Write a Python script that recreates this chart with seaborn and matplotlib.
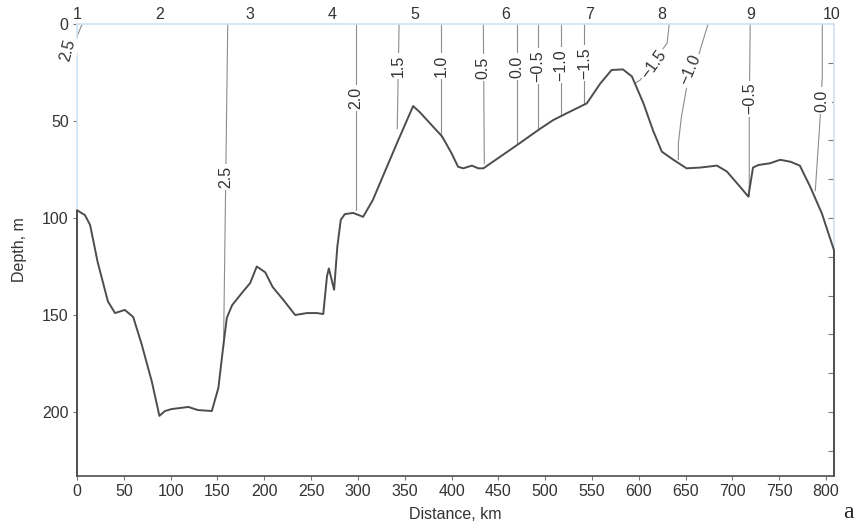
#!/usr/bin/env python3
"""Depth section along the transect: bottom profile plus temperature isolines."""

import matplotlib
matplotlib.use("Agg")
import matplotlib.pyplot as plt
import seaborn as sns
import pandas as pd
import numpy as np

# Bottom profile (distance along the section, depth)
dist_km = [0, 8.5, 14, 22, 33, 40.6, 51, 60, 69, 80, 88, 94, 101, 119, 129, 144,
           151, 156, 160, 165.6, 176, 185, 192, 201, 209, 220, 233, 245.7, 256,
           263, 267, 269, 274.6, 278, 281.7, 286, 295, 305.6, 316, 331, 343, 359,
           366, 390, 400, 407, 412.6, 421.7, 428.6, 434, 470, 494.6, 508.7, 523,
           544.5, 559, 571, 583, 592.6, 605, 615, 624.6, 637, 651, 665.6, 683.4,
           694, 708, 717, 722, 727.6, 740, 751, 762, 772, 783, 795.5, 808.5]
depth_m = [96, 98.5, 103.6, 122.6, 143, 149, 147.4, 151, 165, 184.5, 202, 199.5,
           198.5, 197.4, 199, 199.5, 187.6, 167, 151.5, 145, 138.7, 133.5, 125,
           128, 135.6, 142, 150, 149, 149, 149.5, 130, 126, 137, 115, 101, 98,
           97.4, 99.4, 90.7, 73.6, 60, 42.3, 45.4, 58, 66.6, 73.6, 74.4, 73, 74.4,
           74.4, 62.4, 54, 49.5, 46, 40.9, 30.6, 23.7, 23.4, 27, 40.9, 54.6, 65.8,
           70, 74.4, 74, 73, 76, 83.8, 89, 74, 72.7, 71.8, 70, 71, 73, 83.8, 97.6,
           116.6]

# Stations along the top
stations = ["1", "2", "3", "4", "5", "6", "7", "8", "9", "10"]
station_km = [0, 88, 185, 273, 361, 458, 547, 625, 720, 805.5]

# Temperature isolines, °C
iso_labels = ["2.5", "2.5", "2.0", "1.5", "1.0", "0.5", "0.0", "\u22120.5",
              "\u22121.0", "\u22121.5", "\u22121.5", "\u22121.0", "\u22120.5", "0.0"]
iso_x = [[5.5, 0], [161, 156.5], [298, 298], [344, 342], [389, 389],
         [434, 435], [470, 470], [492.5, 492.5], [517, 517], [542, 542],
         [632.5, 630.3, 601.5, 596],
         [674, 668.8, 662.4, 651, 645.5, 642.3, 642.3],
         [719, 718, 718], [796, 796, 793.5, 788.5]]
iso_depth = [[0, 6.5], [0, 167], [0, 96], [0, 54], [0, 58], [0, 72], [0, 62],
             [0, 54], [0, 47], [0, 41], [0, 9.8, 28.9, 30.5],
             [0, 8.2, 18.6, 33, 48, 61.3, 70], [0, 45, 89], [0, 27, 50, 86]]

# where each label sits on its line (x, depth, rotation)
label_place = [(-9.5, 13.5, 75), (159, 79, 90), (298, 38, 90), (343.5, 21.5, 90),
               (389, 21.5, 90), (434, 22.5, 90), (470, 22, 90), (492.5, 21.5, 90),
               (517, 21, 90), (542, 20, 90), (616, 21, 54), (655, 23.7, 67),
               (718.5, 38.5, 90), (796, 39.5, 90)]

sns.set_style("ticks")
plt.rcParams["font.family"] = ["Liberation Sans", "DejaVu Sans"]

LIGHT = "#cfe2f2"
DARK = "#4d4d4d"
ISO = "#8c8c8c"
TXT = "#333333"
FS = 11.5

fig = plt.figure(figsize=(8.59, 5.29), dpi=100)
ax = fig.add_axes([77 / 859, 1 - 476 / 529, 757 / 859, 452 / 529])

XMAX, YMAX = 808.5, 233

# bottom profile, closed down to the frame
prof = pd.DataFrame({"x": [0] + dist_km + [XMAX], "y": [YMAX] + depth_m + [YMAX]})
sns.lineplot(data=prof, x="x", y="y", sort=False, estimator=None, color=DARK,
             linewidth=1.4, ax=ax, clip_on=False, zorder=4)

for lab, xs, ys, (lx, ly, rot) in zip(iso_labels, iso_x, iso_depth, label_place):
    d = pd.DataFrame({"x": xs, "y": ys})
    sns.lineplot(data=d, x="x", y="y", sort=False, estimator=None, color=ISO,
                 linewidth=0.8, ax=ax, zorder=2)
    ax.text(lx, ly, lab, rotation=rot, ha="center", va="center", fontsize=FS,
            color=TXT, clip_on=False, zorder=3, rotation_mode="anchor",
            bbox=dict(fc="white", ec="none", pad=1.5))

for s, xk in zip(stations, station_km):
    ax.text(xk, -1.0, s, ha="center", va="bottom", fontsize=FS, color=TXT,
            clip_on=False)

ax.set_xlim(0, XMAX)
ax.set_ylim(YMAX, 0)
ax.set_xticks(np.arange(0, 801, 50))
ax.set_yticks([0, 50, 100, 150, 200])
ax.tick_params(axis="both", direction="out", length=3, width=0.8, colors="#777777",
               labelcolor=TXT, labelsize=FS, pad=3)

for side in ["top", "left", "right"]:
    ax.spines[side].set_color(LIGHT)
    ax.spines[side].set_linewidth(1.2)
ax.spines["bottom"].set_color(DARK)
ax.spines["bottom"].set_linewidth(1.2)

sec = ax.secondary_yaxis("right")
sec.set_yticks(np.arange(20, 221, 20))
sec.tick_params(direction="in", length=4, width=0.8, colors="#777777", labelright=False)
sec.spines["right"].set_visible(False)

ax.set_xlabel("Distance, km", fontsize=FS, color=TXT)
ax.set_ylabel("Depth, m", fontsize=FS, color=TXT)
ax.xaxis.set_label_coords(0.5, -0.068)
ax.yaxis.set_label_coords(-0.066, 0.5)

fig.text(848 / 859, 1 - 513 / 529, "a", family="Liberation Serif", fontsize=17,
         ha="center", va="center", color="#222222")

fig.savefig("out.png", dpi=100)
plt.close(fig)
